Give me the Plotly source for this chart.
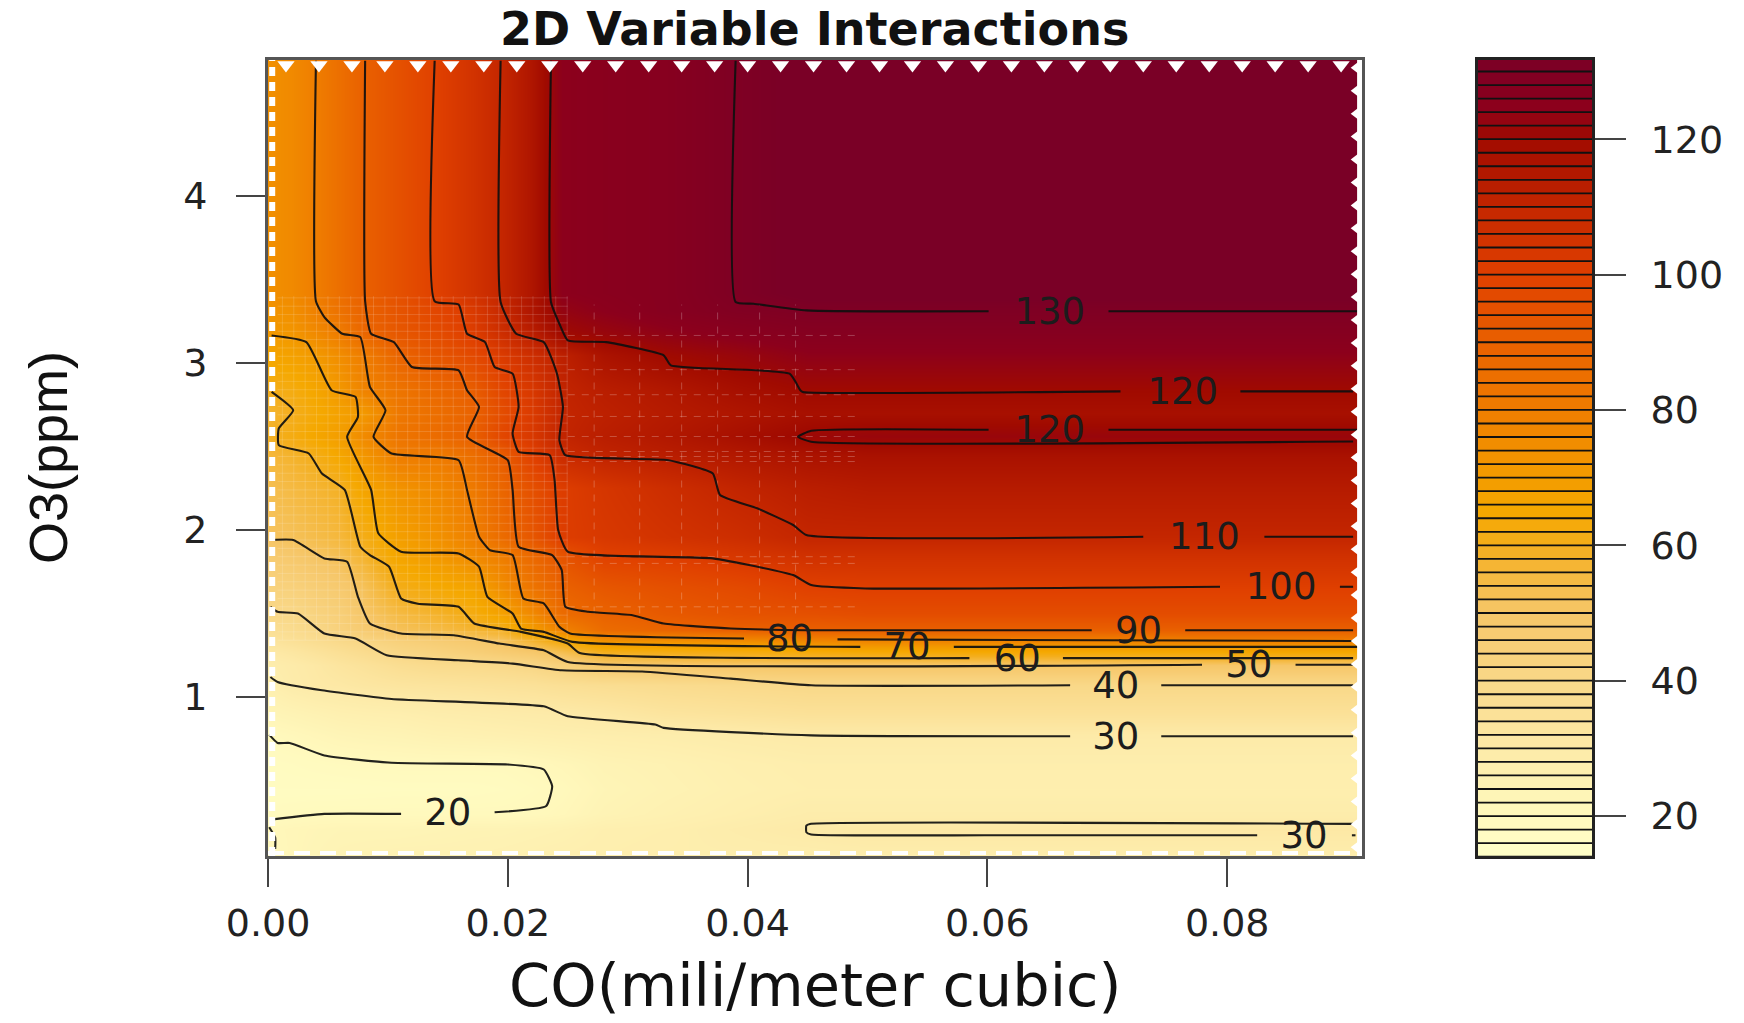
import numpy as np
import plotly.graph_objects as go

# ---------- data ----------
co = [0.0, 0.002, 0.004, 0.006, 0.008, 0.011, 0.014, 0.017, 0.0195, 0.022, 0.0245, 0.028, 0.033, 0.039, 0.045, 0.05, 0.0913]
o3 = [0.05, 0.21, 0.3, 0.45, 0.6, 0.77, 0.9, 1.07, 1.19, 1.27, 1.33, 1.4, 1.5, 1.66, 1.85, 1.96, 2.25, 2.45, 2.56, 2.7, 2.83, 3.05, 3.18, 3.31, 3.42, 4.81]
z = [
 [20,22,23,24,24.5,25,25,25,25.5,26,26.5,27,27.5,27.5,27.5,28,28],
 [21,22,22.5,23,23,23,23.5,24,24,24.5,25,26.5,27,28.5,30,31,31],
 [19,19.5,20,20,20,20,20,20,20,20.5,21.5,24,25.5,27,28.5,28.5,28.5],
 [17.5,17.5,17.5,17.5,17.7,18,18,18,18.5,19.4,20.5,23,24.5,26,27,27,27],
 [18,18.5,19,19.5,19.8,20,20,20,20,21,22,24,25,26.5,27.5,27.5,27.5],
 [20,21,22,23,23.5,24,25,25.5,26,26.5,27,27.5,28,29,30,30,30],
 [23,24,25,26,26.5,27,28,28.5,29,29.5,30,31,33,34,35,35,35],
 [26.5,29,30.5,31,32,33,33.5,34,34.5,35,36,37,38,39,40,40,40],
 [28,29.5,31,33,34.5,37,38.5,39,39.7,41,44,49,49.5,50,50,50,50],
 [30.5,32,34,36,38,41,43,45,47,49,53,60,61,62,63,64,65],
 [33,35,37,39,41,44,46,48,50.5,56,62,72,72,73,75,76,78],
 [36,38,40,44,47,52,54,57,59,69.5,78,86,88,90,90,90,90],
 [40,40,43,45,50,55,58,62,68,76,86,89,92,94,95,96,96],
 [43,44,46,48,52,61,64,67,75,83,89.5,93,95,97,100,100.5,100.5],
 [47,49,51,53,58,67,71,76,80,87,94,100,101,103.5,106,106,106],
 [51,52,54,56,61,69,73,79,86,93,101,103,105,107,110,110,110],
 [53,55,57,59,67,73,76,81,88,95,101,104,107,110.5,113,114,114],
 [56,58,61,66,72,80.5,80.5,85,91,100,108,111,113,115,117,117.5,117.5],
 [59,62,66,69.5,76,83,86,90,98,103,110.5,113,115,118,121,122,122],
 [57,60,64,68,71,82,85,89,96,102,110,112,114,116,118,118,118],
 [60,62,66,71.5,78,83,87,90.5,98,103,110.5,113,115,118,120,120,120],
 [66,68,71,75,80,89,93,97,102,107,112,117,120,122,124.5,124.5,124.5],
 [71,72,76,80.5,88,93,96,101,107,113,120,122,124,126,127.5,127.5,127.5],
 [72,74,79,84,89,94,98,102,109,116,123,125,127,129,130,130,130],
 [74,76,80,85,90,95,100,105,110,116,125,126,127,130,133,133,133],
 [74,76,80,85,90,95,100,105,110,116,125,126,127,130,133,133,133],
]

line_130_x = [.039,.039,.0405,.0449,.0601,None,.0701,.0913]
line_130_y = [4.81,3.365,3.355,3.315,3.31,None,3.31,3.31]
line_120a_x = [.0236,.0236,.0243,.025,.0282,.033,.0336,.0435,.0444,.0446,.0711,None,.0811,.0905]
line_120a_y = [4.81,3.365,3.235,3.135,3.125,3.046,2.986,2.936,2.837,2.827,2.83,None,2.83,2.83]
line_120b_x = [.0913,.0701,None,.0601,.0453,.0442,.0453,.0905]
line_120b_y = [2.6,2.6,None,2.6,2.594,2.558,2.528,2.53]
line_110_x = [.0194,.0194,.0207,.023,.0241,.0246,.0243,.0248,.0334,.0371,.0377,.0408,.0438,.0449,.073,None,.0831,.0905]
line_110_y = [4.81,3.365,3.175,3.125,2.936,2.737,2.538,2.448,2.418,2.338,2.21,2.13,2.03,1.97,1.96,None,1.96,1.96]
line_100_x = [.0139,.0139,.0159,.0166,.0181,.0189,.0204,.0209,.0204,.0209,.0235,.0239,.0242,.025,.0371,.0438,.0453,.0498,.0794,None,.0894,.0905]
line_100_y = [4.81,3.37,3.35,3.175,3.125,2.976,2.936,2.737,2.578,2.468,2.448,2.3,2.0,1.87,1.83,1.73,1.67,1.65,1.66,None,1.66,1.66]
line_90_x = [.0081,.0081,.0086,.0105,.012,.0159,.0166,.0176,.0166,.02,.0204,.0209,.0237,.0245,.0248,.0267,.0304,.033,.0386,.045,.0687,None,.0765,.0905]
line_90_y = [4.81,3.37,3.175,3.125,2.976,2.956,2.837,2.737,2.558,2.418,2.24,1.9,1.85,1.76,1.54,1.51,1.49,1.44,1.41,1.40,1.40,None,1.40,1.40]
line_80_x = [.004,.004,.0047,.0062,.0077,.0085,.0098,.0088,.0103,.0159,.0166,.0176,.0185,.0204,.0213,.023,.0243,.0252,.0397,None,.0475,.0905]
line_80_y = [4.81,3.37,3.275,3.175,3.155,2.857,2.717,2.558,2.458,2.418,2.24,1.96,1.88,1.85,1.59,1.56,1.42,1.38,1.35,None,1.345,1.335]
line_70_x = [.0003,.0032,.0053,.0073,.0075,.0066,.0086,.0092,.0111,.0159,.0176,.0183,.0204,.0211,.023,.0254,.0494,None,.0572,.0913]
line_70_y = [3.165,3.125,2.837,2.797,2.677,2.558,2.24,1.98,1.87,1.86,1.78,1.6,1.5,1.41,1.39,1.33,1.30,None,1.30,1.30]
line_60_x = [.0003,.0021,.0009,.0009,.0034,.0045,.0064,.0077,.0085,.0101,.0111,.0125,.0159,.0172,.0211,.025,.026,.0585,None,.0663,.0905]
line_60_y = [2.827,2.717,2.608,2.508,2.458,2.338,2.24,1.9,1.85,1.78,1.59,1.558,1.54,1.44,1.39,1.32,1.263,1.233,None,1.233,1.233]
line_50_x = [.0003,.0021,.0047,.0066,.0075,.0085,.0111,.0155,.0193,.023,.025,.0779,None,.0857,.0905]
line_50_y = [1.94,1.94,1.83,1.81,1.6,1.44,1.38,1.37,1.32,1.28,1.21,1.193,None,1.193,1.193]
line_40_x = [.0002,.0008,.0025,.0047,.0073,.0099,.0159,.0204,.0245,.0312,.0386,.0453,.0669,None,.0745,.0905]
line_40_y = [1.54,1.51,1.50,1.38,1.35,1.25,1.22,1.2,1.16,1.153,1.11,1.07,1.07,None,1.07,1.07]
line_30_x = [.0002,.0008,.0045,.0103,.023,.025,.0323,.033,.0453,.0669,None,.0745,.0905]
line_30_y = [1.12,1.09,1.04,.988,.944,.885,.835,.815,.77,.765,None,.765,.765]
line_30b_x = [.0905,.0452,.0449,.0449,.0453,.06,.0825,None,.0904,.0907]
line_30b_y = [.24,.24,.23,.19,.177,.172,.172,None,.172,.172]
line_20_x = [.0001,.0008,.0018,.0047,.0103,.02,.023,.0237,.0232,.0189,None,.0111,.0047,.0004]
line_20_y = [.775,.725,.725,.65,.606,.596,.566,.466,.347,.31,None,.30,.30,.267]
line_20b_x = [.0001,.0006,.0006]
line_20b_y = [.22,.158,.09]

label_text = ["130","120","120","110","100","90","80","70","60","50","40","30","30","20"]
label_x = [.0652,.0763,.0652,.0781,.0845,.0726,.0435,.0533,.0625,.0818,.0707,.0707,.0864,.015]
label_y = [3.29,2.81,2.58,1.94,1.64,1.38,1.333,1.28,1.213,1.173,1.05,.747,.154,.287]

band_edges = list(range(14, 134, 2))
color_stops = [(14,"#ffffc8"),(20,"#fff9bd"),(30,"#fdeaa8"),(40,"#f9d888"),(50,"#f6c668"),(60,"#f4ae1d"),
               (65,"#f5a800"),(70,"#f39c00"),(80,"#ef7d00"),(90,"#e96000"),(100,"#e04000"),(110,"#c42600"),
               (120,"#a00a00"),(125,"#8c001c"),(132,"#7a0026")]
zmin, zmax = 14, 132
colorscale = [[(v-zmin)/(zmax-zmin), c] for v, c in color_stops]

# ---------- layout constants ----------
W, H = 1744, 1023
L, R, T, B = 268, 1362, 60, 856
CL, CR = 1478, 1592
xr = [0, (R-L)/11990]
yr = [1-(B-697)/167, 1+(697-T)/167]
TICK_FONT = dict(family="DejaVu Sans", size=38, color="#222")

fig = go.Figure()
fig.add_trace(go.Heatmap(x=co, y=o3, z=z, zmin=zmin, zmax=zmax, colorscale=colorscale,
                         zsmooth="best", showscale=False, hoverinfo="skip"))

# faint seams of the rendered mesh
mx, my = [], []
for v in np.arange(0.0012, 0.0255, 0.00095):
    mx += [v, v, None]; my += [1.34, 3.4, None]
for v in np.arange(1.34, 3.4, 0.05):
    mx += [0.0008, 0.025, None]; my += [v, v, None]
fig.add_trace(go.Scatter(x=mx, y=my, mode="lines", line=dict(color="rgba(255,255,255,0.15)", width=1), hoverinfo="skip"))
sx, sy = [], []
for v in [3.165, 2.96, 2.81, 2.68, 2.56, 2.47, 2.44, 2.41, 1.84, 1.8, 1.54]:
    sx += [0.025, 0.0495, None]; sy += [v, v, None]
for v in [.0272, .031, .0345, .0375, .041, .044]:
    sx += [v, v, None]; sy += [1.5, 3.35, None]
fig.add_trace(go.Scatter(x=sx, y=sy, mode="lines",
                         line=dict(color="rgba(255,255,255,0.24)", width=1, dash="7px,7px"), hoverinfo="skip"))

for lx, ly in [(line_130_x,line_130_y),(line_120a_x,line_120a_y),(line_120b_x,line_120b_y),(line_110_x,line_110_y),
               (line_100_x,line_100_y),(line_90_x,line_90_y),(line_80_x,line_80_y),(line_70_x,line_70_y),
               (line_60_x,line_60_y),(line_50_x,line_50_y),(line_40_x,line_40_y),(line_30_x,line_30_y),
               (line_30b_x,line_30b_y),(line_20_x,line_20_y),(line_20b_x,line_20b_y)]:
    fig.add_trace(go.Scatter(x=lx, y=ly, mode="lines", line=dict(color="rgba(15,15,15,0.92)", width=2.1, shape="spline", smoothing=0.45), hoverinfo="skip"))

fig.add_trace(go.Scatter(x=label_x, y=label_y, mode="text", text=label_text, textposition="middle center",
                         textfont=dict(family="DejaVu Sans", size=37, color="#1c1c1c"), hoverinfo="skip"))

# white notched rim of the image area
fig.add_trace(go.Scatter(x=np.arange(0.0015, 0.0913, 0.00275), y=[yr[1]-0.03]*33, mode="markers",
                         marker=dict(symbol="triangle-down", size=15, color="white", line_width=0), hoverinfo="skip"))
fig.add_trace(go.Scatter(x=[xr[1]-0.0004]*98, y=np.arange(0.1, 4.8, 0.048*2.86)[:98], mode="markers",
                         marker=dict(symbol="triangle-left", size=13, color="white", line_width=0), hoverinfo="skip"))
fig.add_trace(go.Scatter(x=[xr[1]-0.0002]*2, y=yr, mode="lines", line=dict(color="white", width=5), hoverinfo="skip"))
fig.add_trace(go.Scatter(x=[0.00035]*2, y=yr, mode="lines", line=dict(color="white", width=6, dash="9px,6px"), hoverinfo="skip"))
fig.add_trace(go.Scatter(x=xr, y=[yr[0]+0.018]*2, mode="lines", line=dict(color="white", width=4, dash="16px,10px"), hoverinfo="skip"))

# colour key
mids = [e+1 for e in band_edges[:-1]]
fig.add_trace(go.Heatmap(x=[0, 1], y=band_edges, z=[[m] for m in mids], zmin=zmin, zmax=zmax, colorscale=colorscale,
                         showscale=False, hoverinfo="skip", xaxis="x2", yaxis="y2"))
bx, by = [], []
for e in band_edges:
    bx += [0, 1, None]; by += [e, e, None]
fig.add_trace(go.Scatter(x=bx, y=by, mode="lines", line=dict(color="#111", width=1.8), xaxis="x2", yaxis="y2", hoverinfo="skip"))

axis_common = dict(showgrid=False, zeroline=False, showline=True, linecolor="#555", linewidth=3, mirror=True,
                   ticks="outside", tickcolor="#444", tickwidth=2, tickfont=TICK_FONT, automargin=False)
fig.update_layout(
    width=W, height=H, margin=dict(l=0, r=0, t=0, b=0), showlegend=False,
    paper_bgcolor="white", plot_bgcolor="white",
    xaxis=dict(domain=[L/W, R/W], range=xr, tickvals=[0,.02,.04,.06,.08], tickformat=".2f", ticklen=28,
               ticklabelstandoff=3, **axis_common),
    yaxis=dict(domain=[1-B/H, 1-T/H], range=yr, tickvals=[1,2,3,4], ticklen=29, ticklabelstandoff=21, **axis_common),
    xaxis2=dict(domain=[CL/W, CR/W], range=[0,1], showticklabels=False, ticks="", showgrid=False, zeroline=False,
                showline=True, linecolor="#222", linewidth=3, mirror=True, anchor="y2", automargin=False),
    yaxis2=dict(domain=[1-B/H, 1-T/H], range=[14.1, 131.7], side="right", anchor="x2", tickvals=[20,40,60,80,100,120],
                showgrid=False, zeroline=False, showline=True, linecolor="#222", linewidth=3, mirror=True, automargin=False,
                ticks="outside", ticklen=31, tickwidth=2, tickcolor="#444", ticklabelstandoff=17, tickfont=TICK_FONT),
    annotations=[
        dict(text="<b>2D Variable Interactions</b>", x=814/W, y=1-29/H, xref="paper", yref="paper", showarrow=False,
             font=dict(family="DejaVu Sans", size=46, color="#111"), xanchor="center", yanchor="middle"),
        dict(text="CO(mili/meter cubic)", x=815/W, y=1-985/H, xref="paper", yref="paper", showarrow=False,
             font=dict(family="DejaVu Sans", size=59, color="#111"), xanchor="center", yanchor="middle"),
        dict(text="O3(ppm)", x=48/W, y=1-458/H, xref="paper", yref="paper", showarrow=False, textangle=-90,
             font=dict(family="Liberation Sans", size=54, color="#111"), xanchor="center", yanchor="middle"),
    ],
)
fig.write_html("out.html", config=dict(displayModeBar=False), post_script="document.body.style.margin='0';")
